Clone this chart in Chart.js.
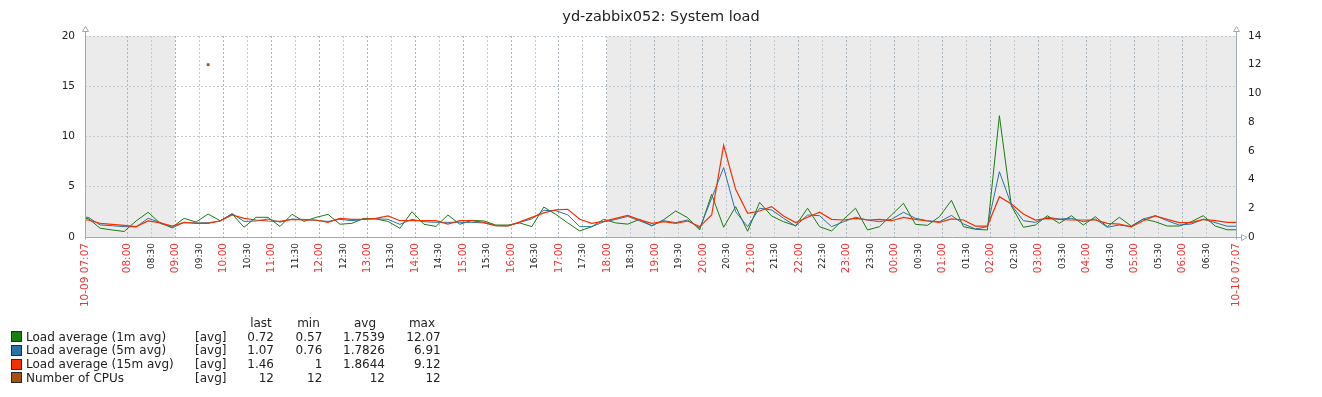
<!DOCTYPE html>
<html><head><meta charset="utf-8">
<script src="https://cdn.jsdelivr.net/npm/chart.js@4"></script>
<style>
html,body{margin:0;padding:0;background:#fff;}
#wrap{position:relative;width:1322px;height:397px;overflow:hidden;}
#legend{position:absolute;left:0;top:0;width:0;height:0;font-family:'DejaVu Sans',sans-serif;font-size:12px;color:#222;}
#legend span{position:absolute;white-space:nowrap;line-height:14px;height:14px;}
#legend i{position:absolute;width:9px;height:9px;border:1px solid #2a2a2a;}
</style></head><body>
<div id="wrap"><canvas id="c" width="1322" height="397"></canvas><div id="legend"></div></div>
<script>
// ---------- data ----------
const titleText = 'yd-zabbix052: System load';
const sampleTimes = ('07:07 ' +
 '07:11 07:26 07:41 07:56 08:11 08:26 08:41 08:56 09:11 09:26 09:41 09:56 ' +
 '10:11 10:26 10:41 10:56 11:11 11:26 11:41 11:56 12:11 12:26 12:41 12:56 ' +
 '13:11 13:26 13:41 13:56 14:11 14:26 14:41 14:56 15:11 15:26 15:41 15:56 ' +
 '16:11 16:26 16:41 16:56 17:11 17:26 17:41 17:56 18:11 18:26 18:41 18:56 ' +
 '19:11 19:26 19:41 19:56 20:11 20:26 20:41 20:56 21:11 21:26 21:41 21:56 ' +
 '22:11 22:26 22:41 22:56 23:11 23:26 23:41 23:56 00:11 00:26 00:41 00:56 ' +
 '01:11 01:26 01:41 01:56 02:11 02:26 02:41 02:56 03:11 03:26 03:41 03:56 ' +
 '04:11 04:26 04:41 04:56 05:11 05:26 05:41 05:56 06:11 06:26 06:41 06:56 ' +
 '07:07').split(' ');

const load1 = [1.85, 1.85, 0.87, 0.7, 0.55, 1.6, 2.46, 1.36, 0.97, 1.86, 1.49, 2.29, 1.62, 2.29, 0.97, 1.96, 1.96, 1.05, 2.26, 1.55, 1.95, 2.25, 1.27, 1.36, 1.86, 1.79, 1.55, 0.87, 2.52, 1.27, 1.05, 2.19, 1.27, 1.65, 1.6, 1.19, 1.19, 1.4, 1.03, 2.98, 2.25, 1.4, 0.6, 1.03, 1.76, 1.4, 1.28, 1.76, 1.1, 1.72, 2.59, 1.92, 0.7, 4.25, 0.97, 3.02, 0.57, 3.45, 2.09, 1.52, 1.12, 2.86, 1.03, 0.6, 1.76, 2.86, 0.7, 1.03, 2.19, 3.35, 1.26, 1.16, 2.02, 3.65, 1.03, 0.77, 0.7, 12.07, 3.08, 0.97, 1.19, 2.12, 1.36, 2.12, 1.19, 2.02, 1.03, 1.96, 1.09, 1.79, 1.52, 1.09, 1.09, 1.52, 2.12, 1.09, 0.72, 0.72];
const load5 = [1.96, 1.96, 1.2, 1.12, 1.03, 1.0, 1.86, 1.45, 0.9, 1.45, 1.4, 1.42, 1.59, 2.33, 1.55, 1.59, 1.79, 1.48, 1.77, 1.75, 1.65, 1.55, 1.76, 1.62, 1.76, 1.82, 1.76, 1.26, 1.76, 1.52, 1.46, 1.46, 1.46, 1.46, 1.4, 1.12, 1.1, 1.45, 1.8, 2.65, 2.62, 2.2, 1.03, 1.03, 1.5, 1.75, 2.05, 1.6, 1.15, 1.62, 1.43, 1.69, 0.87, 3.85, 6.91, 2.52, 1.03, 2.86, 2.69, 1.86, 1.09, 2.19, 2.12, 1.03, 1.52, 1.96, 1.69, 1.52, 1.76, 2.46, 1.86, 1.62, 1.52, 2.15, 1.3, 0.8, 1.03, 6.5, 3.18, 1.62, 1.46, 1.96, 1.79, 1.86, 1.52, 1.79, 0.97, 1.19, 1.03, 1.79, 2.12, 1.62, 1.19, 1.29, 1.76, 1.43, 1.07, 1.07];
const load15 = [1.69, 1.69, 1.36, 1.25, 1.15, 1.03, 1.6, 1.4, 1.09, 1.46, 1.36, 1.36, 1.59, 2.19, 1.86, 1.69, 1.59, 1.55, 1.76, 1.69, 1.69, 1.46, 1.86, 1.76, 1.76, 1.86, 2.09, 1.62, 1.62, 1.62, 1.62, 1.29, 1.62, 1.62, 1.45, 1.12, 1.1, 1.5, 1.95, 2.4, 2.69, 2.76, 1.76, 1.36, 1.55, 1.86, 2.15, 1.7, 1.36, 1.52, 1.36, 1.59, 1.03, 2.19, 9.12, 4.74, 2.36, 2.59, 3.02, 2.09, 1.43, 1.96, 2.46, 1.76, 1.69, 1.86, 1.69, 1.76, 1.62, 1.96, 1.76, 1.59, 1.46, 1.8, 1.69, 1.09, 1.09, 4.01, 3.28, 2.29, 1.69, 1.86, 1.76, 1.69, 1.69, 1.69, 1.36, 1.29, 1.0, 1.62, 2.09, 1.76, 1.43, 1.43, 1.76, 1.62, 1.46, 1.46];
const cpuTimes = ['09:41'];
const cpuValues = [12];

const xTickLabels = ['10-09 07:07','08:00','08:30','09:00','09:30','10:00','10:30','11:00','11:30','12:00','12:30','13:00','13:30','14:00','14:30','15:00','15:30','16:00','16:30','17:00','17:30','18:00','18:30','19:00','19:30','20:00','20:30','21:00','21:30','22:00','22:30','23:00','23:30','00:00','00:30','01:00','01:30','02:00','02:30','03:00','03:30','04:00','04:30','05:00','05:30','06:00','06:30','10-10 07:07'];
const yLeftTicks = [0, 5, 10, 15, 20];
const yRightTicks = [0, 2, 4, 6, 8, 10, 12, 14];
const nightBands = [['07:07','09:00'], ['18:00','07:07']];

const seriesNames = ['Load average (1m avg)', 'Load average (5m avg)', 'Load average (15m avg)', 'Number of CPUs'];
const seriesColors = ['#1A7C11', '#2774A4', '#F63100', '#A54F10'];
const seriesFunc = ['[avg]', '[avg]', '[avg]', '[avg]'];
const statHeaders = ['last', 'min', 'avg', 'max'];
const statLast = ['0.72', '1.07', '1.46', '12'];
const statMin = ['0.57', '0.76', '1', '12'];
const statAvg = ['1.7539', '1.7826', '1.8644', '12'];
const statMax = ['12.07', '6.91', '9.12', '12'];

// ---------- helpers ----------
const START = 7 * 60 + 7;
function toMin(s) { const t = s.slice(-5); const h = +t.slice(0, 2), m = +t.slice(3, 5); return ((h * 60 + m - START) % 1440 + 1440) % 1440; }
function toAxis(list) { let prev = -1; return list.map((s, i) => { let m = toMin(s); while (i > 0 && m <= prev) m += 1440; prev = m; return m; }); }
const xs = toAxis(sampleTimes);
const xTickMins = toAxis(xTickLabels);
const pts = arr => arr.map((v, i) => ({ x: xs[i], y: v }));
const isRed = lbl => lbl.includes('-') || lbl.endsWith(':00');

const shadePlugin = {
  id: 'shade',
  beforeDraw(chart) {
    const { ctx, chartArea: a, scales: { x } } = chart;
    ctx.save();
    ctx.fillStyle = '#ebebeb';
    nightBands.forEach(([s, e]) => {
      let s0 = toMin(s), e0 = toMin(e);
      if (e0 <= s0) e0 += 1440;
      const px0 = x.getPixelForValue(s0), px1 = x.getPixelForValue(e0);
      ctx.fillRect(px0, a.top, px1 - px0, a.bottom - a.top);
    });
    ctx.restore();
  }
};
const axesPlugin = {
  id: 'axesDeco',
  afterDraw(chart) {
    const { ctx, chartArea: a } = chart;
    const L = Math.round(a.left) + 0.5, R = Math.round(a.right) + 0.5, B = Math.round(a.bottom) + 0.5, T = a.top;
    ctx.save();
    ctx.strokeStyle = '#9eabb6';
    ctx.lineWidth = 1;
    ctx.beginPath();
    ctx.moveTo(L, T - 4.5); ctx.lineTo(L, B + 2);
    ctx.moveTo(R, T - 4.5); ctx.lineTo(R, B + 2);
    ctx.moveTo(L, B); ctx.lineTo(R + 5, B);
    ctx.stroke();
    [L, R].forEach(cx => {
      ctx.beginPath();
      ctx.moveTo(cx - 3, T - 4.5); ctx.lineTo(cx + 3, T - 4.5); ctx.lineTo(cx, T - 9.5); ctx.closePath();
      ctx.stroke();
    });
    ctx.beginPath();
    ctx.moveTo(R + 5, B - 3); ctx.lineTo(R + 5, B + 3); ctx.lineTo(R + 10.5, B); ctx.closePath();
    ctx.stroke();
    ctx.restore();
  }
};

Chart.defaults.font.family = "'DejaVu Sans', sans-serif";
Chart.defaults.color = '#222';

new Chart(document.getElementById('c'), {
  type: 'line',
  data: {
    datasets: [
      { label: seriesNames[0], data: pts(load1), borderColor: seriesColors[0], backgroundColor: seriesColors[0], borderWidth: 1, pointRadius: 0, tension: 0, yAxisID: 'y', order: 3 },
      { label: seriesNames[1], data: pts(load5), borderColor: seriesColors[1], backgroundColor: seriesColors[1], borderWidth: 1, pointRadius: 0, tension: 0, yAxisID: 'y', order: 2 },
      { label: seriesNames[2], data: pts(load15), borderColor: seriesColors[2], backgroundColor: seriesColors[2], borderWidth: 1.2, pointRadius: 0, tension: 0, yAxisID: 'y', order: 1 },
      { label: seriesNames[3], data: cpuTimes.map((t, i) => ({ x: toMin(t), y: cpuValues[i] })), borderColor: seriesColors[3], backgroundColor: seriesColors[3], showLine: false, pointStyle: 'rect', pointRadius: 2, pointBorderWidth: 0, yAxisID: 'y2', order: 0 }
    ]
  },
  options: {
    responsive: false,
    animation: false,
    layout: { padding: 0 },
    plugins: {
      legend: { display: false },
      tooltip: { enabled: false },
      title: { display: true, text: titleText, color: '#222', font: { size: 14.5, weight: 'normal' }, padding: { top: 9, bottom: 9.6 } }
    },
    scales: {
      x: {
        type: 'linear', min: xTickMins[0], max: xTickMins[xTickMins.length - 1],
        afterBuildTicks: s => { s.ticks = xTickMins.map(v => ({ value: v })); },
        afterFit: s => { s.height = 160; },
        ticks: {
          autoSkip: false, minRotation: 90, maxRotation: 90, padding: 6,
          callback: (v, i) => xTickLabels[i],
          color: c => isRed(xTickLabels[c.index] || '') ? '#ee3535' : '#222',
          font: c => ({ size: isRed(xTickLabels[c.index] || '') ? 10.5 : 9 })
        },
        grid: {
          drawTicks: false, lineWidth: 1,
          color: c => { const l = xTickLabels[c.index] || ''; if (c.index === 0 || c.index === xTickLabels.length - 1) return 'rgba(0,0,0,0)'; return l.endsWith(':00') ? '#a9b4bd' : '#c3cad0'; }
        },
        border: { display: false, dash: [2, 2] }
      },
      y: {
        position: 'left', min: yLeftTicks[0], max: yLeftTicks[yLeftTicks.length - 1],
        afterBuildTicks: s => { s.ticks = yLeftTicks.map(v => ({ value: v })); },
        afterFit: s => { s.width = 85; },
        ticks: { padding: 10, font: { size: 10.5 }, color: '#222' },
        grid: { drawTicks: false, color: '#c3cad0', lineWidth: 1 },
        border: { display: false, dash: [2, 2] }
      },
      y2: {
        position: 'right', min: yRightTicks[0], max: yRightTicks[yRightTicks.length - 1],
        afterBuildTicks: s => { s.ticks = yRightTicks.map(v => ({ value: v })); },
        afterFit: s => { s.width = 86; },
        ticks: { padding: 12, font: { size: 10.5 }, color: '#222' },
        grid: { display: false, drawTicks: false },
        border: { display: false }
      }
    }
  },
  plugins: [shadePlugin, axesPlugin]
});

// ---------- legend table (HTML text) ----------
const lg = document.getElementById('legend');
function addSpan(text, left, top, width, align) {
  const s = document.createElement('span');
  s.textContent = text;
  s.style.left = left + 'px'; s.style.top = top + 'px';
  if (width) { s.style.width = width + 'px'; s.style.textAlign = align; }
  lg.appendChild(s);
}
const headCenters = [261, 308.5, 365, 422];
statHeaders.forEach((h, i) => addSpan(h, headCenters[i] - 50, 322.7 - 7, 100, 'center'));
const rowCenters = [336.7, 350.4, 364.1, 377.8];
const valRights = [274, 322.3, 385, 440.7];
const stats = [statLast, statMin, statAvg, statMax];
seriesNames.forEach((n, r) => {
  const cy = rowCenters[r];
  const sw = document.createElement('i');
  sw.style.left = '10.5px'; sw.style.top = (cy - 5.5) + 'px'; sw.style.background = seriesColors[r];
  lg.appendChild(sw);
  addSpan(n, 26, cy - 7);
  addSpan(seriesFunc[r], 195, cy - 7);
  stats.forEach((col, j) => addSpan(col[r], valRights[j] - 100, cy - 7, 100, 'right'));
});
</script>
</body></html>
